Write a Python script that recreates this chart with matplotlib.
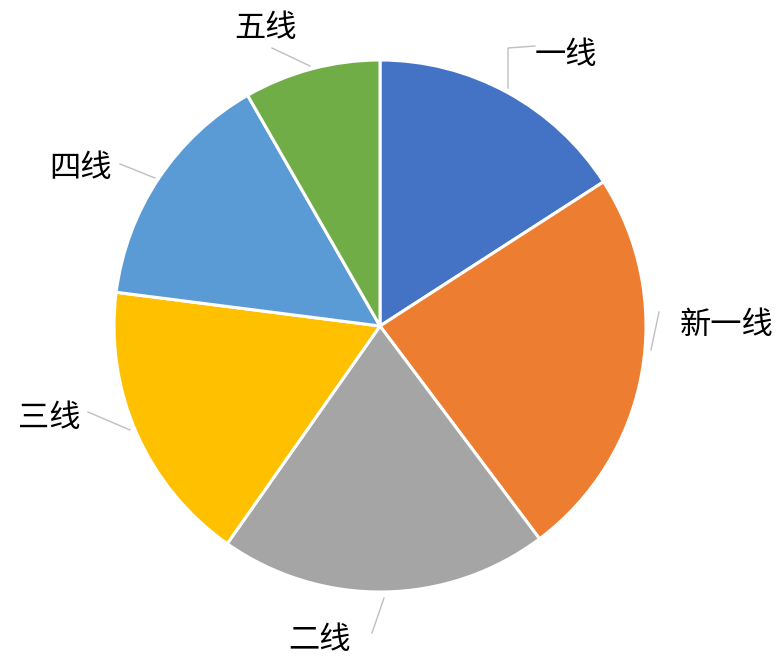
import matplotlib
matplotlib.use("Agg")
import matplotlib.pyplot as plt
import numpy as np

plt.rcParams['font.family'] = ['Noto Sans CJK SC', 'DejaVu Sans']

categories = ["一线", "新一线", "二线", "三线", "四线", "五线"]
shares = [15.9, 23.9, 20.0, 17.3, 14.7, 8.3]
colors = ["#4472C4", "#ED7D31", "#A5A5A5", "#FFC000", "#5B9BD5", "#70AD47"]

W, H = 777, 657
fig = plt.figure(figsize=(W / 100, H / 100), dpi=100)
ax = fig.add_axes([0, 0, 1, 1])

cx, cy, R = 380, H - 326, 266
wedges, _ = ax.pie(shares, colors=colors, startangle=90, counterclock=False,
                   center=(cx, cy), radius=R, frame=True,
                   wedgeprops=dict(edgecolor='white', linewidth=2.2))
ax.set_xlim(0, W)
ax.set_ylim(0, H)
ax.set_aspect('equal')
ax.axis('off')

# label placements (pixel coords, y from top) and leader line paths
label_pos = [(566, 55), (727, 325), (320, 640), (49, 418), (80, 168), (266, 28)]
leaders = [
    [(535, 46), (508, 48), (508, 88)],
    [(659, 312), (651, 350)],
    [(372, 633), (384, 598)],
    [(88, 412), (130, 430)],
    [(120, 164), (155, 178)],
    [(272, 48), (310, 66)],
]
for name, (lx, ly), path in zip(categories, label_pos, leaders):
    xs = [p[0] for p in path]
    ys = [H - p[1] for p in path]
    ax.plot(xs, ys, color='#BFBFBF', lw=1.0, zorder=1)
    ax.text(lx, H - ly, name, fontsize=22.5, ha='center', va='center', color='black')

fig.savefig("out.png", dpi=100)
